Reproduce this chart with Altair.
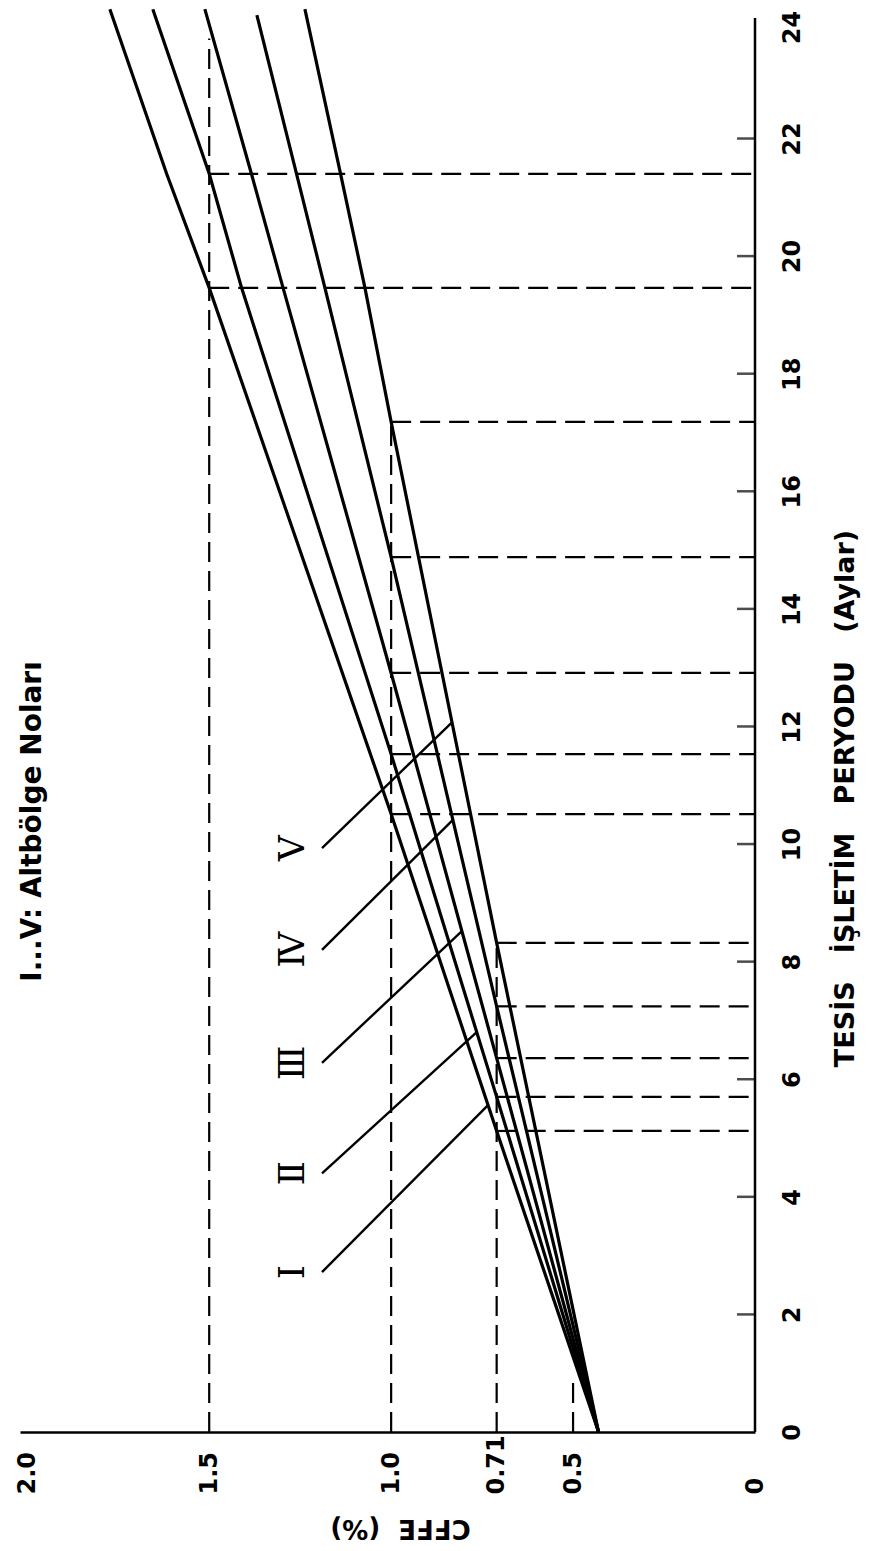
import altair as alt
import numpy as np
import pandas as pd

# ---------------- data ----------------
month_ticks = list(range(0, 25, 2))            # TESİS İŞLETİM PERYODU (Aylar)
inner_tick_months = list(range(2, 23, 2))
cffe_ticks = [0, 0.5, 0.71, 1.0, 1.5, 2.0]     # CFFE (%)
cffe_tick_labels = ["0", "0.5", "0.71", "1.0", "1.5", "2.0"]

curve_ids = ["I", "II", "III", "IV", "V"]
curve_months = [
    [0, 5.12, 10.51, 19.46, 21.4, 24.2],
    [0, 5.70, 11.53, 19.46, 21.4, 24.2],
    [0, 6.36, 12.91, 19.46, 21.4, 24.2],
    [0, 7.24, 14.88, 19.46, 21.4, 24.1],
    [0, 8.32, 17.18, 19.46, 21.4, 24.2],
]
curve_cffe = [
    [0.43, 0.71, 1.0, 1.5, 1.617, 1.773],
    [0.43, 0.71, 1.0, 1.411, 1.5, 1.655],
    [0.43, 0.71, 1.0, 1.297, 1.384, 1.512],
    [0.43, 0.71, 1.0, 1.182, 1.26, 1.369],
    [0.43, 0.71, 1.0, 1.072, 1.139, 1.237],
]

# threshold guide lines
level_cffe = [0.5, 0.71, 1.0, 1.5]
level_top_month = [0.88, 8.32, 17.18, 23.7]
cross_cffe = [0.71] * 5 + [1.0] * 5 + [1.5] * 2
cross_month = [5.12, 5.70, 6.36, 7.24, 8.32,
               10.51, 11.53, 12.91, 14.88, 17.18,
               19.46, 21.4]

# curve labels and their leader lines
label_text = ["Ⅰ", "Ⅱ", "Ⅲ", "Ⅳ", "Ⅴ"]
label_month = [2.72, 4.40, 6.28, 8.20, 9.93]
label_cffe = 1.27
leader_start_cffe = 1.19
leader_end_month = [5.56, 6.80, 8.52, 10.41, 12.07]

note_text = "I...V: Altbölge Noları"
note_cffe = 1.985
note_month = 13.11

x_title = "CFFE\u00a0\u00a0(%)"
y_title = "TESİS\u00a0\u00a0\u00a0İŞLETİM\u00a0\u00a0\u00a0PERYODU\u00a0\u00a0\u00a0(Aylar)"

# ---------------- tables ----------------
rows = []
for cid, ms, cs in zip(curve_ids, curve_months, curve_cffe):
    for m, c in zip(ms, cs):
        rows.append({"curve": cid, "m": m, "c": c})
curves_df = pd.DataFrame(rows)

vdash_df = pd.DataFrame({"c": level_cffe, "m": [0] * len(level_cffe), "m2": level_top_month})
hdash_df = pd.DataFrame({"c": cross_cffe, "c2": [0] * len(cross_cffe), "m": cross_month})

leader_end_cffe = [float(np.interp(me, ms, cs))
                   for me, ms, cs in zip(leader_end_month, curve_months, curve_cffe)]
leader_df = pd.DataFrame({"c": [leader_start_cffe] * 5, "m": label_month,
                          "c2": leader_end_cffe, "m2": leader_end_month})
label_df = pd.DataFrame({"c": [label_cffe] * 5, "m": label_month, "t": label_text})
note_df = pd.DataFrame({"c": [note_cffe], "m": [note_month], "t": [note_text]})
tick_df = pd.DataFrame({"c": [0] * len(inner_tick_months), "m": inner_tick_months})
axisline_df = pd.DataFrame({"c": [0], "m": [0], "m2": [24.05]})

# ---------------- scales / axes ----------------
XS = alt.Scale(domain=[0, 2.02], reverse=True, nice=False, zero=False)
YS = alt.Scale(domain=[0, 24.22], nice=False, zero=False)

label_expr = " : ".join(
    [f"datum.value == {v} ? '{t}'" for v, t in zip(cffe_ticks, cffe_tick_labels)]
) + " : ''"

x_axis = alt.Axis(
    orient="bottom", values=cffe_ticks, labelExpr=label_expr,
    labelAngle=270, labelAlign="left", labelBaseline="middle",
    labelPadding=62, labelFont="DejaVu Sans", labelFontWeight="bold",
    labelFontSize=24, labelColor="black", labelFlush=False, labelOverlap=False,
    ticks=False, tickSize=0, grid=False,
    domain=True, domainColor="black", domainWidth=2.5,
    title=x_title, titleAngle=180, titleFont="DejaVu Sans", titleFontWeight="bold",
    titleFontSize=26, titleColor="black", titleAlign="center", titleBaseline="middle",
    titleX=380, titleY=95,
)
y_axis = alt.Axis(
    orient="right", values=month_ticks, labelAngle=270, labelAlign="center",
    labelBaseline="top", labelPadding=25, labelFont="DejaVu Sans",
    labelFontWeight="bold", labelFontSize=24, labelColor="black",
    labelFlush=False, labelOverlap=False,
    labelOffset={"condition": {"test": "datum.value == 24", "value": 6}, "value": 0},
    ticks=False, tickSize=0, grid=False, domain=False,
    title=y_title, titleAngle=270, titleFont="DejaVu Sans", titleFontWeight="bold",
    titleFontSize=27, titleColor="black", titleAlign="center", titleBaseline="middle",
    titleX=90, titleY=790,
)


def X(field="c"):
    return alt.X(f"{field}:Q", scale=XS, axis=x_axis, title=x_title)


def Y(field="m"):
    return alt.Y(f"{field}:Q", scale=YS, axis=y_axis, title=y_title)


curves = alt.Chart(curves_df).mark_line(color="black", strokeWidth=3.2).encode(
    x=X(), y=Y(), detail="curve:N", order="m:Q",
)
vdash = alt.Chart(vdash_df).mark_rule(color="black", strokeWidth=2.2, strokeDash=[20, 9]).encode(
    x=X(), y=Y(), y2="m2:Q"
)
hdash = alt.Chart(hdash_df).mark_rule(color="black", strokeWidth=2.2, strokeDash=[20, 9]).encode(
    x=X(), x2="c2:Q", y=Y()
)
leaders = alt.Chart(leader_df).mark_rule(color="black", strokeWidth=2.4).encode(
    x=X(), x2="c2:Q", y=Y(), y2="m2:Q"
)
numerals = alt.Chart(label_df).mark_text(
    angle=270, align="center", baseline="middle", font="DejaVu Serif",
    fontSize=36, color="black"
).encode(x=X(), y=Y(), text="t:N")
note = alt.Chart(note_df).mark_text(
    angle=270, align="right", baseline="middle", font="DejaVu Sans",
    fontSize=28, fontWeight="bold", color="black"
).encode(x=X(), y=Y(), text="t:N")
ticks = alt.Chart(tick_df).mark_tick(
    orient="horizontal", size=18, thickness=2.5, xOffset=-9, color="black"
).encode(x=X(), y=Y())
axisline = alt.Chart(axisline_df).mark_rule(color="black", strokeWidth=2.5).encode(
    x=X(), y=Y(), y2="m2:Q"
)

chart = alt.layer(vdash, hdash, curves, leaders, numerals, note, ticks, axisline).properties(
    width=735, height=1424,
    autosize=alt.AutoSizeParams(type="none"),
    padding={"left": 12, "top": 0, "right": 110, "bottom": 110},
    background="white",
).configure_view(stroke=None)

chart.save("out.html", embed_options={"renderer": "svg", "actions": False})
